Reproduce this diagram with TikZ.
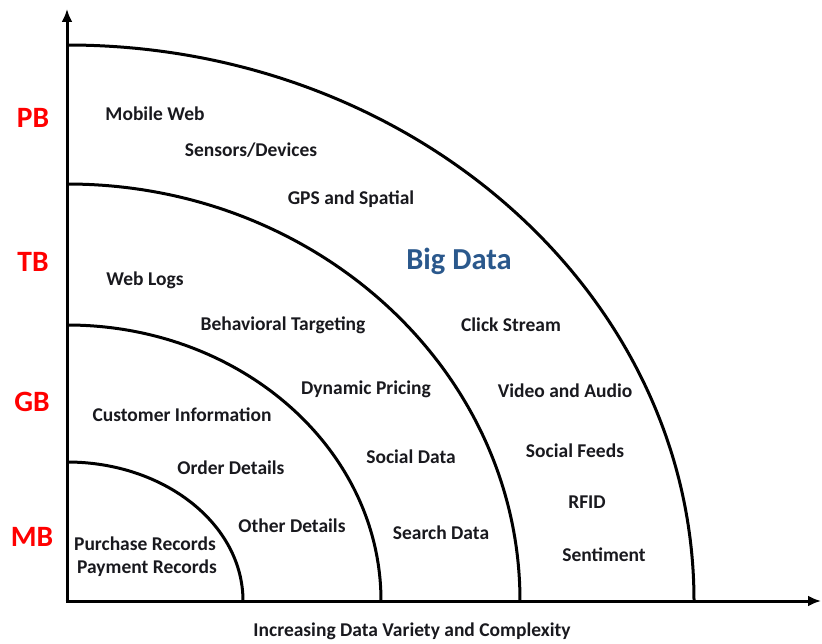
\documentclass[tikz,border=0pt]{standalone}
\usepackage{fontspec}
\setmainfont{Carlito}
\usetikzlibrary{arrows.meta}
\definecolor{labelblue}{RGB}{42,88,140}
\definecolor{textdark}{RGB}{25,25,30}
\begin{document}
\begin{tikzpicture}[x=1pt,y=-1pt,
  axis/.style={line width=3pt,-{Latex[length=13pt,width=11pt]}},
  ring/.style={line width=3pt},
  item/.style={font=\fontsize{19.5}{22}\selectfont\bfseries,text=textdark,inner sep=0pt},
  scale label/.style={font=\fontsize{29.5}{32}\selectfont\bfseries,text=red,inner sep=0pt},
  title label/.style={font=\fontsize{30.5}{33}\selectfont\bfseries,text=labelblue,inner sep=0pt}]
  \useasboundingbox (0,0) rectangle (822,644);

  % axes
  \coordinate (O) at (67,601);
  \coordinate (ytip) at (67,9);
  \coordinate (xtip) at (821,601);
  \draw[axis] ([yshift=-1.5pt]O) -- (ytip);
  \draw[axis] ([xshift=-1.5pt]O) -- (xtip);

  % nested quarter rings, from MB out to PB
  \draw[ring] (67,462) arc[start angle=90,end angle=0,x radius=176pt,y radius=139pt];
  \draw[ring] (67,325) arc[start angle=90,end angle=0,x radius=314pt,y radius=276pt];
  \draw[ring] (67,184) arc[start angle=90,end angle=0,x radius=453pt,y radius=417pt];
  \draw[ring] (67,45)  arc[start angle=90,end angle=0,x radius=627pt,y radius=556pt];

  % size scale
  \node[scale label] (pb) at (33,118) {PB};
  \node[scale label] (tb) at (33,262) {TB};
  \node[scale label] (gb) at (32,402) {GB};
  \node[scale label] (mb) at (32,537) {MB};

  \node[title label] (big) at (459,261) {Big Data};

  % data sources
  \node[item] (mobile)   at (155,114) {Mobile Web};
  \node[item] (sensors)  at (251,150) {Sensors/Devices};
  \node[item] (gps)      at (351,199) {GPS and Spatial};
  \node[item] (weblogs)  at (145,280) {Web Logs};
  \node[item] (behav)    at (283,325) {Behavioral Targeting};
  \node[item] (click)    at (511,325) {Click Stream};
  \node[item] (pricing)  at (366,389) {Dynamic Pricing};
  \node[item] (video)    at (565,391) {Video and Audio};
  \node[item] (customer) at (182,415) {Customer Information};
  \node[item] (social)   at (411,457) {Social Data};
  \node[item] (feeds)    at (575,451) {Social Feeds};
  \node[item] (order)    at (231,468) {Order Details};
  \node[item] (other)    at (292,526) {Other Details};
  \node[item] (search)   at (441,533) {Search Data};
  \node[item] (rfid)     at (587,502) {RFID};
  \node[item] (purchase) at (145,544) {Purchase Records};
  \node[item] (payment)  at (147,568) {Payment Records};
  \node[item] (senti)    at (604,555) {Sentiment};

  \node[item] (xlabel) at (412,631) {Increasing Data Variety and Complexity};
\end{tikzpicture}
\end{document}
